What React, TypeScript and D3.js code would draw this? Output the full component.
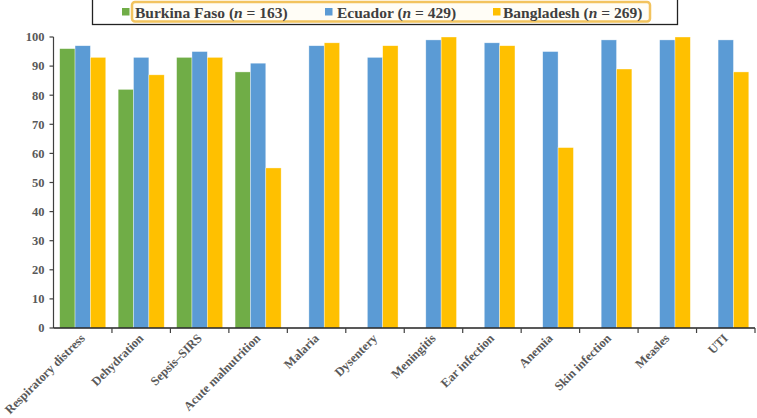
import React from "react";
import * as d3 from "d3";

const categories = [
  "Respiratory distress", "Dehydration", "Sepsis\u2013SIRS", "Acute malnutrition",
  "Malaria", "Dysentery", "Meningitis", "Ear infection", "Anemia",
  "Skin infection", "Measles", "UTI",
];
const burkinaFaso: (number | null)[] = [96, 82, 93, 88, null, null, null, null, null, null, null, null];
const ecuador: (number | null)[] = [97, 93, 95, 91, 97, 93, 99, 98, 95, 99, 99, 99];
const bangladesh: (number | null)[] = [93, 87, 93, 55, 98, 97, 100, 97, 62, 89, 100, 88];
const seriesNames = ["Burkina Faso", "Ecuador", "Bangladesh"];
const seriesN = ["163", "429", "269"];
const seriesColors = ["#70AD47", "#5B9BD5", "#FFC000"];
const yTicks = [0, 10, 20, 30, 40, 50, 60, 70, 80, 90, 100];

const W = 757, H = 418;
const X0 = 53.5, X1 = 755, Y0 = 328, Y1 = 37;
const FONT = "'Liberation Serif', 'Times New Roman', serif";
const TXT = "#595959";

export default function App() {
  const seriesData = [burkinaFaso, ecuador, bangladesh];
  const x = d3.scaleBand<string>().domain(categories).range([X0, X1]).paddingInner(0.212).paddingOuter(0.106);
  const xs = d3.scaleBand<string>().domain(seriesNames).range([0, x.bandwidth()]).padding(0);
  const y = d3.scaleLinear().domain([0, 100]).range([Y0, Y1]);
  const step = x.step();
  const bounds = categories.map((_, i) => X0 + step * (i + 1));

  const legendItems = [
    { sq: 122, tx: 135 },
    { sq: 325, tx: 337 },
    { sq: 493, tx: 503 },
  ];

  return (
    <svg width={W} height={H} style={{ position: "absolute", left: 0, top: 0, background: "#fff" }}>
      {/* legend */}
      <rect x={92.5} y={-1} width={585} height={25.5} fill="#fff" stroke="#222" strokeWidth={1.3} />
      <rect x={132} y={2} width={518} height={19.5} rx={3} fill="#FFFDF6" stroke="#F2C35E" strokeWidth={2.5} />
      {legendItems.map((li, i) => (
        <g key={i}>
          <rect x={li.sq} y={8} width={7.5} height={7.5} fill={seriesColors[i]} />
          <text x={li.tx} y={17.5} fontFamily={FONT} fontWeight="bold" fontSize={15.5} fill="#3f3f3f">
            {seriesNames[i]} (<tspan fontStyle="italic">n</tspan> = {seriesN[i]})
          </text>
        </g>
      ))}

      {/* bars */}
      {categories.map((c, ci) => (
        <g key={c} transform={`translate(${x(c)},0)`}>
          {seriesData.map((s, si) => {
            const v = s[ci];
            if (v == null) return null;
            return (
              <rect key={si} x={xs(seriesNames[si])} y={y(v)} width={xs.bandwidth()} height={Y0 - y(v)}
                fill={seriesColors[si]} stroke="#fff" strokeOpacity={0.6} strokeWidth={0.6} />
            );
          })}
        </g>
      ))}

      {/* y axis */}
      <line x1={X0} x2={X0} y1={Y1} y2={Y0} stroke="#404040" strokeWidth={1.2} />
      {yTicks.map((t) => (
        <g key={t}>
          <line x1={X0 - 4} x2={X0} y1={y(t)} y2={y(t)} stroke="#404040" strokeWidth={1.2} />
          <text x={X0 - 9} y={y(t)} dy="0.35em" textAnchor="end" fontFamily={FONT} fontWeight="bold"
            fontSize={12.5} fill={TXT}>{t}</text>
        </g>
      ))}

      {/* x axis */}
      <line x1={X0} x2={X1} y1={Y0} y2={Y0} stroke="#222" strokeWidth={1.3} />
      {bounds.map((b, i) => (
        <line key={i} x1={b} x2={b} y1={Y0} y2={Y0 + 5} stroke="#404040" strokeWidth={1.2} />
      ))}
      {categories.map((c) => {
        const cx = (x(c) as number) + x.bandwidth() / 2;
        return (
          <text key={c} transform={`translate(${cx + 3},${Y0 + 11}) rotate(-45)`} textAnchor="end"
            fontFamily={FONT} fontWeight="bold" fontSize={12.5} fill={TXT}>{c}</text>
        );
      })}
    </svg>
  );
}
